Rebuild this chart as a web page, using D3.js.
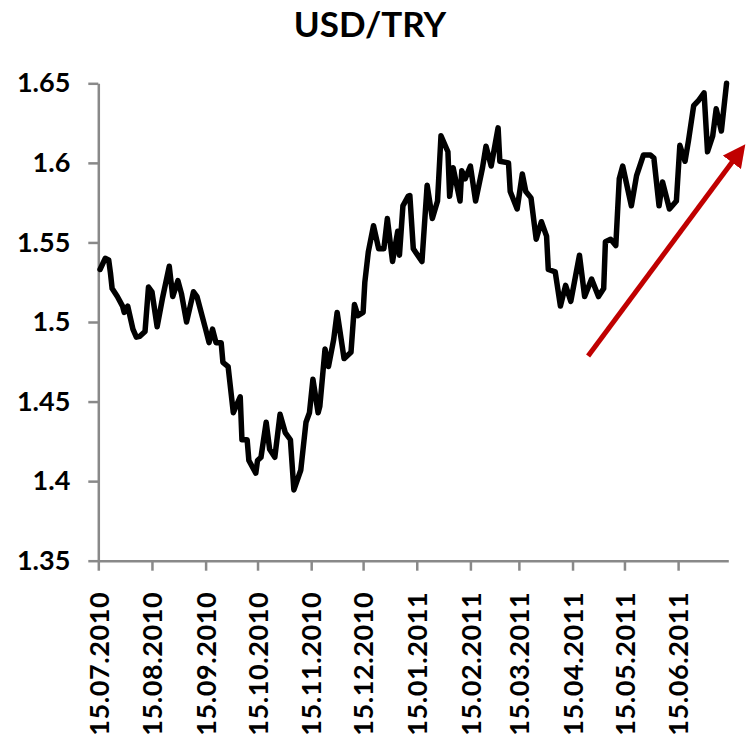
<!DOCTYPE html>
<html>
<head>
<meta charset="utf-8">
<script src="https://cdn.jsdelivr.net/npm/d3@7"></script>
<style>
    body { margin: 0; background: #fff; }
    svg { display: block; }
    .axis path, .axis line { stroke: #898989; stroke-width: 2.5; }
    .axis text { font-family: Lato, "Open Sans", sans-serif; font-weight: bold; fill: #000; }
</style>
</head>
<body>
<svg id="chart" width="746" height="739"></svg>
<script>
let title = "USD/TRY";

let dates = [
    "16.07.2010", "19.07.2010", "21.07.2010", "22.07.2010", "23.07.2010", "26.07.2010", "29.07.2010", "30.07.2010",
    "01.08.2010", "04.08.2010", "06.08.2010", "08.08.2010", "11.08.2010", "13.08.2010", "15.08.2010", "18.08.2010",
    "21.08.2010", "25.08.2010", "27.08.2010", "30.08.2010", "01.09.2010", "04.09.2010", "08.09.2010", "10.09.2010",
    "15.09.2010", "17.09.2010", "19.09.2010", "21.09.2010", "24.09.2010", "25.09.2010", "28.09.2010", "01.10.2010",
    "05.10.2010", "06.10.2010", "09.10.2010", "10.10.2010", "14.10.2010", "15.10.2010", "17.10.2010", "20.10.2010",
    "22.10.2010", "25.10.2010", "28.10.2010", "31.10.2010", "03.11.2010", "05.11.2010", "09.11.2010", "12.11.2010",
    "14.11.2010", "16.11.2010", "19.11.2010", "20.11.2010", "23.11.2010", "25.11.2010", "28.11.2010", "30.11.2010",
    "04.12.2010", "08.12.2010", "10.12.2010", "12.12.2010", "15.12.2010", "16.12.2010", "18.12.2010", "21.12.2010",
    "24.12.2010", "27.12.2010", "29.12.2010", "01.01.2011", "04.01.2011", "05.01.2011", "07.01.2011", "10.01.2011",
    "11.01.2011", "13.01.2011", "18.01.2011", "21.01.2011", "24.01.2011", "27.01.2011", "29.01.2011", "02.02.2011",
    "03.02.2011", "05.02.2011", "09.02.2011", "10.02.2011", "12.02.2011", "15.02.2011", "18.02.2011", "22.02.2011",
    "24.02.2011", "27.02.2011", "03.03.2011", "04.03.2011", "09.03.2011", "10.03.2011", "14.03.2011", "17.03.2011",
    "19.03.2011", "22.03.2011", "25.03.2011", "28.03.2011", "31.03.2011", "01.04.2011", "05.04.2011", "08.04.2011",
    "11.04.2011", "14.04.2011", "19.04.2011", "22.04.2011", "26.04.2011", "30.04.2011", "03.05.2011", "04.05.2011",
    "07.05.2011", "10.05.2011", "12.05.2011", "14.05.2011", "19.05.2011", "22.05.2011", "26.05.2011", "30.05.2011",
    "01.06.2011", "04.06.2011", "06.06.2011", "10.06.2011", "14.06.2011", "16.06.2011", "19.06.2011", "21.06.2011",
    "24.06.2011", "27.06.2011", "30.06.2011", "02.07.2011", "05.07.2011", "07.07.2011", "10.07.2011", "13.07.2011"
];

let rates = [
    1.533, 1.540, 1.539, 1.531, 1.521, 1.516, 1.510, 1.506,
    1.510, 1.4955, 1.4905, 1.491, 1.494, 1.522, 1.519, 1.497,
    1.5145, 1.535, 1.516, 1.526, 1.518, 1.500, 1.519, 1.516,
    1.4955, 1.487, 1.4955, 1.487, 1.487, 1.4747, 1.472, 1.443,
    1.453, 1.426, 1.426, 1.413, 1.405, 1.413, 1.415, 1.437,
    1.420, 1.415, 1.442, 1.4305, 1.426, 1.3945, 1.407, 1.437,
    1.443, 1.464, 1.443, 1.447, 1.483, 1.472, 1.489, 1.506,
    1.477, 1.481, 1.511, 1.504, 1.506, 1.525, 1.544, 1.5605,
    1.546, 1.546, 1.565, 1.538, 1.557, 1.542, 1.573, 1.579,
    1.5795, 1.546, 1.538, 1.586, 1.565, 1.576, 1.617, 1.607,
    1.579, 1.597, 1.576, 1.595, 1.590, 1.598, 1.576, 1.597,
    1.6105, 1.598, 1.622, 1.601, 1.600, 1.582, 1.571, 1.593,
    1.582, 1.578, 1.552, 1.563, 1.554, 1.533, 1.5315, 1.510,
    1.523, 1.513, 1.542, 1.516, 1.527, 1.516, 1.521, 1.5505,
    1.552, 1.548, 1.590, 1.598, 1.573, 1.592, 1.605, 1.605,
    1.603, 1.573, 1.588, 1.571, 1.576, 1.611, 1.601, 1.614,
    1.636, 1.6395, 1.644, 1.607, 1.617, 1.634, 1.620, 1.650
];

let xTickLabels = [
    "15.07.2010", "15.08.2010", "15.09.2010", "15.10.2010", "15.11.2010", "15.12.2010",
    "15.01.2011", "15.02.2011", "15.03.2011", "15.04.2011", "15.05.2011", "15.06.2011"
];
let yTicks = [1.35, 1.4, 1.45, 1.5, 1.55, 1.6, 1.65];

// trend arrow (annotation), in data units
let arrowFrom = {"date": "24.04.2011", "value": 1.4786};
let arrowTo = {"date": "24.07.2011", "value": 1.612};

let parseDate = d3.utcParse("%d.%m.%Y");

let svg = d3.select("#chart");
let x = d3.scaleUtc()
    .domain([parseDate("15.07.2010"), parseDate("14.07.2011")])
    .range([98.3, 728.3]);
let y = d3.scaleLinear()
    .domain([1.35, 1.65])
    .range([560.7, 83.3]);

let data = dates.map(function (d, i) {
    return {"date": parseDate(d), "value": rates[i]};
});

svg.append("text")
    .attr("x", 370)
    .attr("y", 37)
    .attr("text-anchor", "middle")
    .style("font-family", "Lato, 'Open Sans', sans-serif")
    .style("font-weight", "bold")
    .style("font-size", "35px")
    .text(title);

let yAxis = svg.append("g")
    .attr("class", "axis")
    .attr("transform", "translate(98.3,0)")
    .call(d3.axisLeft(y).tickValues(yTicks).tickSize(10).tickSizeOuter(0)
        .tickFormat(d => String(+d.toFixed(2))));
yAxis.selectAll("text")
    .attr("x", -28)
    .style("font-size", "27px");

let xAxis = svg.append("g")
    .attr("class", "axis")
    .attr("transform", "translate(0,560.7)")
    .call(d3.axisBottom(x).tickValues(xTickLabels.map(parseDate)).tickSize(10).tickSizeOuter(0)
        .tickFormat(d3.utcFormat("%d.%m.%Y")));
xAxis.selectAll("text")
    .attr("transform", "rotate(-90)")
    .attr("x", -31)
    .attr("y", 0)
    .attr("dy", "0.36em")
    .attr("text-anchor", "end")
    .style("font-size", "27px")
    .style("letter-spacing", "0.6px");

let line = d3.line()
    .x(d => x(d.date))
    .y(d => y(d.value));

svg.append("path")
    .datum(data)
    .attr("d", line)
    .attr("fill", "none")
    .attr("stroke", "#000")
    .attr("stroke-width", 5.5)
    .attr("stroke-linejoin", "round")
    .attr("stroke-linecap", "round");

svg.append("defs").append("marker")
    .attr("id", "head")
    .attr("viewBox", "0 0 10 10")
    .attr("refX", 2)
    .attr("refY", 5)
    .attr("markerWidth", 4.5)
    .attr("markerHeight", 4.5)
    .attr("orient", "auto")
    .append("path")
    .attr("d", "M0,0 L10,5 L0,10 Z")
    .attr("fill", "#c00000");

svg.append("line")
    .attr("x1", x(parseDate(arrowFrom.date)))
    .attr("y1", y(arrowFrom.value))
    .attr("x2", x(parseDate(arrowTo.date)) - 11)
    .attr("y2", y(arrowTo.value) + 15)
    .attr("stroke", "#c00000")
    .attr("stroke-width", 5)
    .attr("marker-end", "url(#head)");
</script>
</body>
</html>
